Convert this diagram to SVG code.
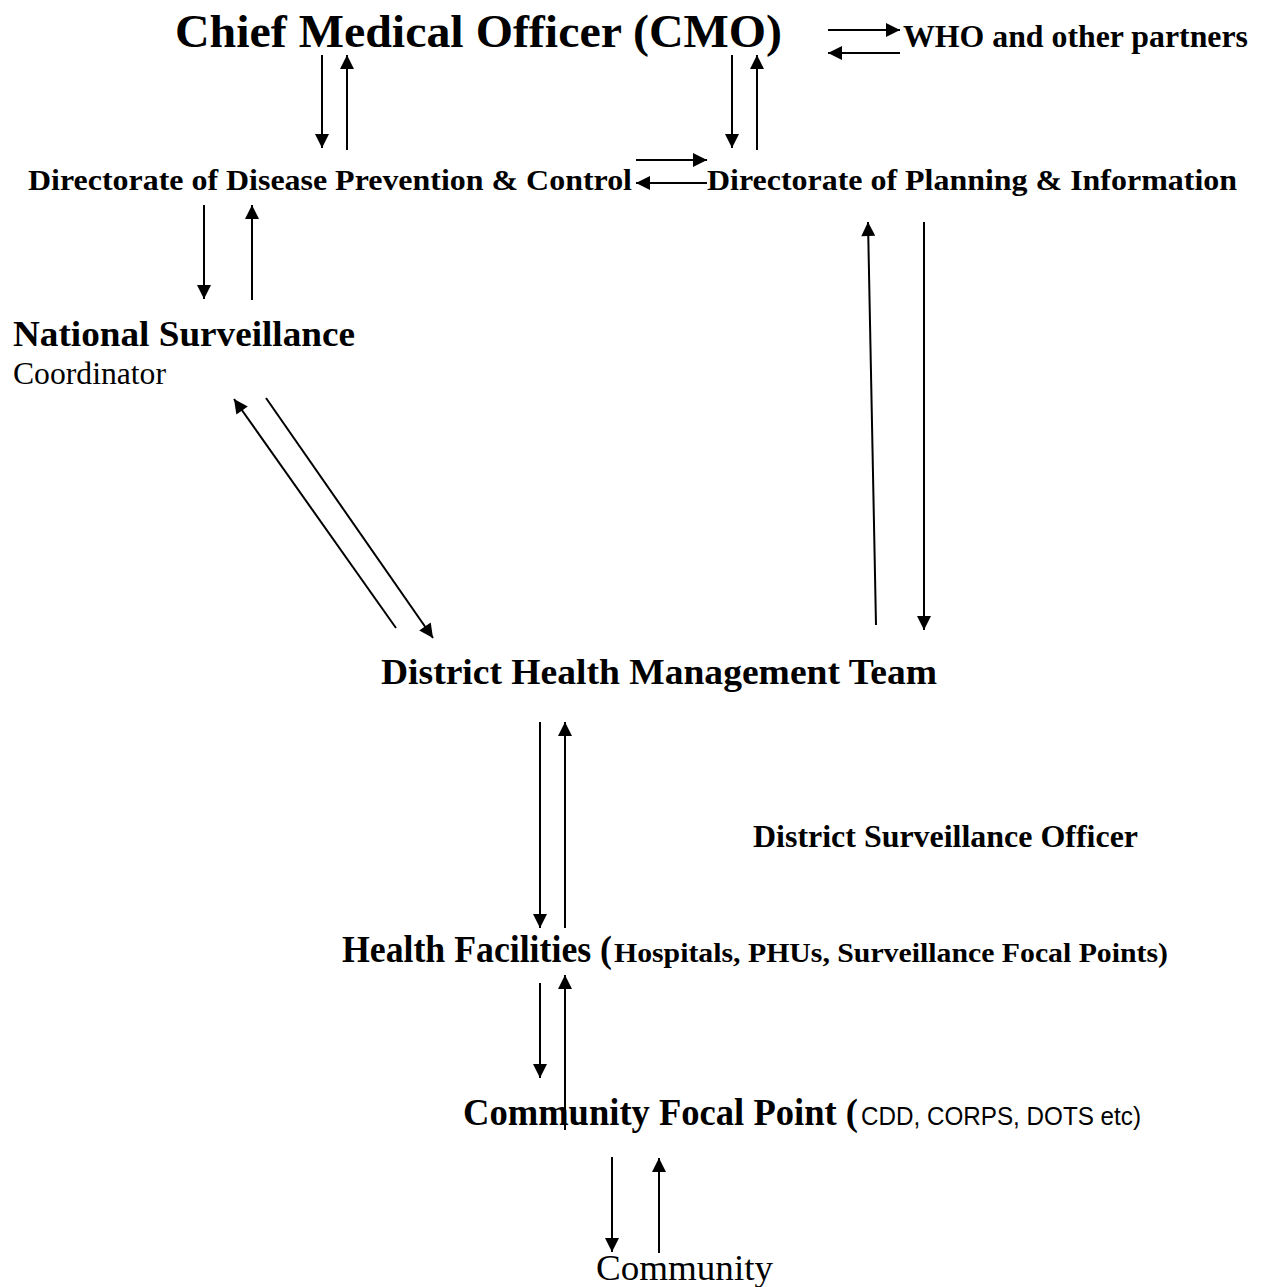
<svg xmlns="http://www.w3.org/2000/svg" width="1261" height="1287" viewBox="0 0 1261 1287">
<style>
text{font-family:"Liberation Serif","Times New Roman",serif;fill:#000}
.b{font-weight:bold}
.s{font-family:"Liberation Sans",Arial,sans-serif}
line{stroke:#000;stroke-width:2;fill:none}
</style>
<defs>
<marker id="ah" viewBox="0 0 10 10" refX="10" refY="5" markerWidth="15" markerHeight="14" markerUnits="userSpaceOnUse" orient="auto">
<path d="M0,0 L10,5 L0,10 z" fill="#000"/>
</marker>
</defs>
<rect width="1261" height="1287" fill="#fff"/>
<g id="cmo"><text class="b" x="175" y="47" font-size="47" textLength="607" lengthAdjust="spacingAndGlyphs">Chief Medical Officer (CMO)</text></g>
<g id="who"><text class="b" x="903" y="47" font-size="31" textLength="345" lengthAdjust="spacingAndGlyphs">WHO and other partners</text></g>
<g id="dpc"><text class="b" x="28" y="190" font-size="30" textLength="604" lengthAdjust="spacingAndGlyphs">Directorate of Disease Prevention &amp; Control</text></g>
<g id="dpi"><text class="b" x="707" y="190" font-size="30" textLength="530" lengthAdjust="spacingAndGlyphs">Directorate of Planning &amp; Information</text></g>
<g id="nsc"><text class="b" x="13" y="346" font-size="36" textLength="342" lengthAdjust="spacingAndGlyphs">National Surveillance</text>
<text x="13" y="384" font-size="31" textLength="153" lengthAdjust="spacingAndGlyphs">Coordinator</text></g>
<g id="dhmt"><text class="b" x="381" y="684" font-size="36" textLength="556" lengthAdjust="spacingAndGlyphs">District Health Management Team</text></g>
<g id="dso"><text class="b" x="753" y="847" font-size="32" textLength="385" lengthAdjust="spacingAndGlyphs">District Surveillance Officer</text></g>
<g id="hf"><text class="b" x="342" y="962" font-size="37" textLength="270" lengthAdjust="spacingAndGlyphs">Health Facilities (</text>
<text class="b" x="614" y="962" font-size="27" textLength="554" lengthAdjust="spacingAndGlyphs">Hospitals, PHUs, Surveillance Focal Points)</text></g>
<g id="cfp"><text class="b" x="463" y="1125" font-size="37" textLength="395" lengthAdjust="spacingAndGlyphs">Community Focal Point (</text>
<text class="s" x="861" y="1125" font-size="26" textLength="280" lengthAdjust="spacingAndGlyphs">CDD, CORPS, DOTS etc)</text></g>
<g id="community"><text x="596" y="1280" font-size="36" textLength="177" lengthAdjust="spacingAndGlyphs">Community</text></g>
<g id="connectors">
<line x1="322" y1="55" x2="322" y2="148" marker-end="url(#ah)"/>
<line x1="347" y1="150" x2="347" y2="55" marker-end="url(#ah)"/>
<line x1="732" y1="55" x2="732" y2="148" marker-end="url(#ah)"/>
<line x1="757" y1="150" x2="757" y2="55" marker-end="url(#ah)"/>
<line x1="828" y1="30" x2="900" y2="30" marker-end="url(#ah)"/>
<line x1="900" y1="53" x2="828" y2="53" marker-end="url(#ah)"/>
<line x1="636" y1="160" x2="707" y2="160" marker-end="url(#ah)"/>
<line x1="707" y1="183" x2="636" y2="183" marker-end="url(#ah)"/>
<line x1="204" y1="205" x2="204" y2="299" marker-end="url(#ah)"/>
<line x1="252" y1="300" x2="252" y2="205" marker-end="url(#ah)"/>
<line x1="396" y1="628" x2="234" y2="399" marker-end="url(#ah)"/>
<line x1="266" y1="398" x2="433" y2="638" marker-end="url(#ah)"/>
<line x1="876" y1="625" x2="868" y2="222" marker-end="url(#ah)"/>
<line x1="924" y1="222" x2="924" y2="630" marker-end="url(#ah)"/>
<line x1="540" y1="722" x2="540" y2="928" marker-end="url(#ah)"/>
<line x1="565" y1="928" x2="565" y2="722" marker-end="url(#ah)"/>
<line x1="540" y1="983" x2="540" y2="1078" marker-end="url(#ah)"/>
<line x1="565" y1="1130" x2="565" y2="975" marker-end="url(#ah)"/>
<line x1="612" y1="1157" x2="612" y2="1252" marker-end="url(#ah)"/>
<line x1="659" y1="1253" x2="659" y2="1158" marker-end="url(#ah)"/>
</g>
</svg>
